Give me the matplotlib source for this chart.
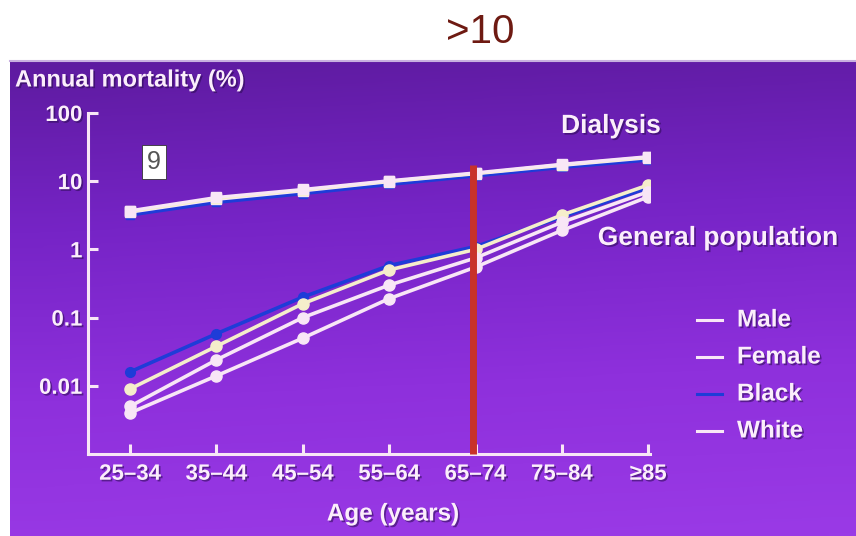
import numpy as np
import matplotlib
matplotlib.use("Agg")
import matplotlib.pyplot as plt
import matplotlib.patheffects as pe
from matplotlib.colors import LinearSegmentedColormap

# ---- data ----
age_groups = ["25\u201334", "35\u201344", "45\u201354", "55\u201364", "65\u201374", "75\u201384", "\u226585"]
y_ticks = [0.01, 0.1, 1, 10, 100]
y_tick_labels = ["0.01", "0.1", "1", "10", "100"]

dial_black = [3.2, 4.9, 6.6, 9.0, 12.0, 16.0, 20.5]
dial_female = [3.5, 5.4, 7.2, 9.8, 12.8, 17.0, 22.0]
dial_male = [3.6, 5.6, 7.4, 10.0, 13.0, 17.5, 22.5]
dial_white = [3.7, 5.8, 7.6, 10.2, 13.3, 17.8, 23.0]

gen_black = [0.016, 0.058, 0.20, 0.58, 1.1, 3.0, 8.0]
gen_male = [0.009, 0.038, 0.16, 0.50, 1.0, 3.2, 8.8]
gen_white = [0.005, 0.024, 0.10, 0.30, 0.75, 2.5, 7.0]
gen_female = [0.004, 0.014, 0.05, 0.19, 0.55, 1.9, 5.9]

legend_labels = ["Male", "Female", "Black", "White"]
marker_line = 4  # index of 65-74 group where red line is drawn

W, H = 856, 536
fig = plt.figure(figsize=(W / 100, H / 100), dpi=100)
fig.patch.set_facecolor("white")

FONT = "Liberation Sans"
TXT = "#fbeefb"
shadow = [pe.withSimplePatchShadow(offset=(1.2, -1.2), shadow_rgbFace="#2a0a50", alpha=0.55)]

# purple panel background
bg = fig.add_axes([10 / W, 0, 1 - 10 / W, (H - 62) / H])
cmap = LinearSegmentedColormap.from_list("p", ["#5e1ba0", "#7624c6", "#8e30dc", "#9a3ae6"])
grad = np.linspace(0, 1, 256).reshape(-1, 1) * np.ones((1, 16))
grad = grad + np.linspace(0, 0.08, 16)[None, :]
bg.imshow(grad, aspect="auto", cmap=cmap, origin="upper", extent=[0, 1, 0, 1], vmin=0, vmax=1.08)
bg.set_axis_off()
fig.add_artist(plt.Line2D([10 / W, 1], [1 - 61 / H, 1 - 61 / H], color="#c8b0e0", lw=1.5))

# main axes
left, right = 88 / W, 650 / W
bottom, top = 1 - 454 / H, 1 - 113 / H
ax = fig.add_axes([left, bottom, right - left, top - bottom])
ax.set_facecolor("none")
ax.set_yscale("log")
ax.set_ylim(0.001, 100)
x = np.arange(len(age_groups))
ax.set_xlim(-0.487, 6.02)

line_c = "#f8e6f6"
blue = "#1e3cd8"

def plot_series(vals, color, marker, ms, z, lw=2.6):
    ax.plot(x, vals, color=color, lw=lw, marker=marker, ms=ms, mfc=color, mec=color, zorder=z,
            solid_capstyle="round")

# dialysis
plot_series(dial_black, blue, "s", 6, 3)
plot_series(dial_female, line_c, "s", 6.5, 4, lw=2.2)
plot_series(dial_male, "#f6f0c8", "s", 6.5, 4, lw=2.2)
plot_series(dial_white, line_c, "s", 7, 5, lw=2.2)
# general population
plot_series(gen_black, blue, "o", 7, 3)
plot_series(gen_male, "#f5eecb", "o", 8, 4)
plot_series(gen_white, line_c, "o", 8, 4)
plot_series(gen_female, line_c, "o", 8, 4)

# red vertical line
ax.plot([x[marker_line] - 0.035, x[marker_line] - 0.035], [0.001, 17], color="#c8322a", lw=5, zorder=6,
        solid_capstyle="butt", clip_on=False)

# axes styling
for s in ["top", "right"]:
    ax.spines[s].set_visible(False)
for s in ["left", "bottom"]:
    ax.spines[s].set_color(line_c)
    ax.spines[s].set_linewidth(2.2)
ax.set_yticks(y_ticks)
ax.set_yticklabels(y_tick_labels)
ax.yaxis.set_minor_locator(matplotlib.ticker.NullLocator())
ax.set_xticks(x)
ax.set_xticklabels(age_groups)
ax.tick_params(axis="both", direction="in", length=7, width=2.2, color=line_c, labelcolor=TXT,
               labelsize=16, pad=7)
ax.tick_params(axis="y", pad=4)
for lab in ax.get_xticklabels() + ax.get_yticklabels():
    lab.set_fontfamily(FONT)
    lab.set_fontweight("bold")
    lab.set_path_effects(shadow)

# texts
fig.text(393 / W, 1 - 514 / H, "Age (years)", fontsize=17.5, fontweight="bold", color=TXT,
         fontfamily=FONT, va="center", ha="center", path_effects=shadow)
fig.text(15 / W, 1 - 80 / H, "Annual mortality (%)", fontsize=17, fontweight="bold", color=TXT,
         fontfamily=FONT, va="center", ha="left", path_effects=shadow)
fig.text(611 / W, 1 - 126 / H, "Dialysis", fontsize=19, fontweight="bold", color=TXT,
         fontfamily=FONT, va="center", ha="center", path_effects=shadow)
fig.text(718 / W, 1 - 238 / H, "General population", fontsize=19, fontweight="bold", color=TXT,
         fontfamily=FONT, va="center", ha="center", path_effects=shadow)
fig.text(480 / W, 1 - 32 / H, ">10", fontsize=29, color="#6e1a12", fontfamily=FONT,
         va="center", ha="center")
fig.text(154 / W, 1 - 162 / H, "9", fontsize=18, color="#555555", fontfamily=FONT, va="center",
         ha="center", bbox=dict(boxstyle="square,pad=0.2", fc="white", ec="#333333", lw=0.6))

# legend
leg_colors = [line_c, line_c, blue, line_c]
for i, (lab, c) in enumerate(zip(legend_labels, leg_colors)):
    yy = 1 - (320 + 37 * i) / H
    fig.add_artist(plt.Line2D([697 / W, 722 / W], [yy, yy], color=c, lw=2.2))
    fig.text(737 / W, yy, lab, fontsize=17.5, fontweight="bold", color=TXT, fontfamily=FONT,
             va="center", ha="left", path_effects=shadow)

fig.savefig("out.png", dpi=100, facecolor="white")
